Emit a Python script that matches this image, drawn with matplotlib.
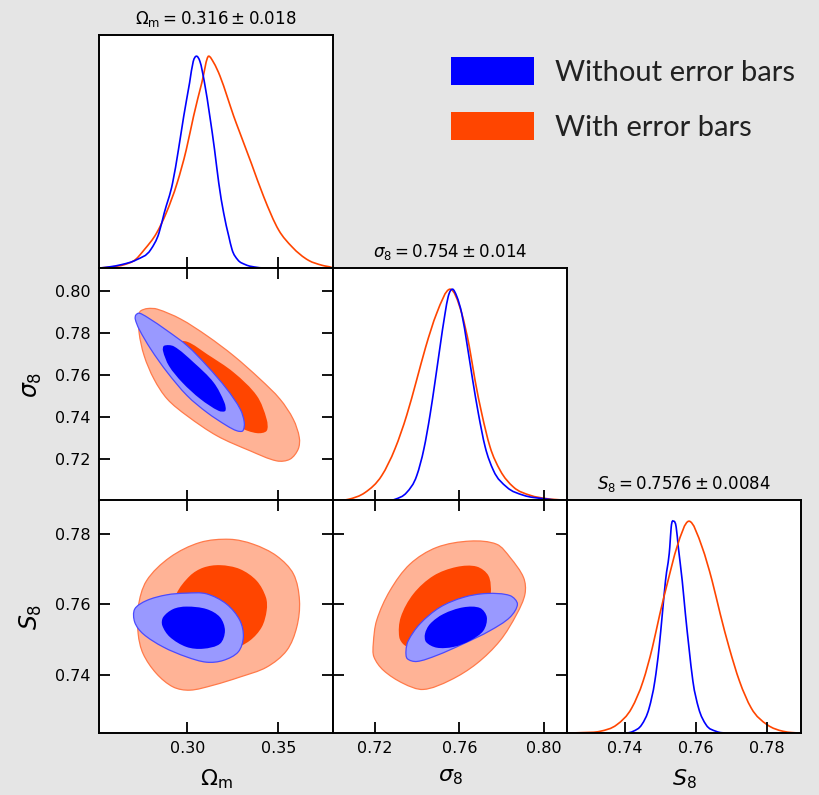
import numpy as np
import matplotlib
matplotlib.use("Agg")
import matplotlib.pyplot as plt
from matplotlib.path import Path
from matplotlib.patches import PathPatch, Patch

# ---------------- data ----------------
labels = ["Without error bars", "With error bars"]

# 1D marginals (x, normalised density)
om_x_blue = [0.252, 0.2570, 0.2640, 0.2722, 0.2800, 0.2845, 0.2874, 0.2920, 0.2952, 0.2981, 0.3013,
             0.3033, 0.3051, 0.3070, 0.3095, 0.3124, 0.3150, 0.3173, 0.3200, 0.3228, 0.3246, 0.3277,
             0.3319, 0.3383, 0.350, 0.380]
om_p_blue = [0.0, 0.005, 0.016, 0.039, 0.087, 0.165, 0.260, 0.402, 0.559, 0.717, 0.874,
             0.975, 1.0, 0.975, 0.874, 0.717, 0.559, 0.402, 0.260, 0.150, 0.087, 0.039,
             0.016, 0.003, 0.0, 0.0]
om_x_orange = [0.252, 0.2585, 0.2655, 0.2715, 0.2765, 0.2832, 0.2885, 0.2945, 0.2995, 0.3035, 0.3080,
               0.3118, 0.3145, 0.3180, 0.3219, 0.3255, 0.3283, 0.3352, 0.3420, 0.3502, 0.3575,
               0.3666, 0.3739, 0.3794, 0.380]
om_p_orange = [0.0, 0.005, 0.016, 0.039, 0.087, 0.165, 0.260, 0.402, 0.559, 0.717, 0.874,
               1.0, 0.970, 0.906, 0.810, 0.717, 0.652, 0.494, 0.336, 0.179, 0.100,
               0.036, 0.013, 0.002, 0.0]

sig8_x_blue = [0.700, 0.722, 0.7295, 0.7350, 0.7398, 0.7432, 0.7461, 0.7485, 0.7508, 0.7532, 0.7547,
               0.7567, 0.7588, 0.7611, 0.7638, 0.7663, 0.7690, 0.7722, 0.7761, 0.7824, 0.7904, 0.7998,
               0.8077, 0.811]
sig8_p_blue = [0.0, 0.0, 0.008, 0.040, 0.120, 0.247, 0.407, 0.566, 0.726, 0.885, 0.965,
               1.0, 0.965, 0.886, 0.729, 0.571, 0.413, 0.256, 0.145, 0.066, 0.027, 0.011,
               0.003, 0.0]
sig8_x_orange = [0.7001, 0.7074, 0.7153, 0.7232, 0.7295, 0.7351, 0.7396, 0.7440, 0.7492, 0.7556,
                 0.7611, 0.7647, 0.7674, 0.7706, 0.7745, 0.7793, 0.7856, 0.7935, 0.8014, 0.8093, 0.811]
sig8_p_orange = [0.0, 0.008, 0.040, 0.120, 0.247, 0.407, 0.566, 0.726, 0.885, 1.0,
                 0.886, 0.729, 0.571, 0.413, 0.256, 0.145, 0.066, 0.027, 0.011, 0.003, 0.0]

s8_x_blue = [0.7237, 0.7390, 0.7423, 0.7447, 0.7468, 0.7484, 0.7496, 0.7505, 0.7514, 0.7526, 0.7530,
             0.7537, 0.7544, 0.7550, 0.7561, 0.7570, 0.7580, 0.7591, 0.7607, 0.7628, 0.7656, 0.7690,
             0.7893]
s8_p_blue = [0.0, 0.0, 0.008, 0.039, 0.118, 0.245, 0.403, 0.561, 0.719, 0.877, 0.972,
             1.0, 0.972, 0.877, 0.719, 0.561, 0.403, 0.245, 0.118, 0.039, 0.008, 0.0,
             0.0]
s8_x_orange = [0.7237, 0.7283, 0.7330, 0.7377, 0.7419, 0.7451, 0.7477, 0.7498, 0.7521, 0.7546,
               0.7580, 0.7617, 0.7645, 0.7668, 0.7693, 0.7722, 0.7755, 0.7800, 0.7845, 0.7870, 0.7893]
s8_p_orange = [0.0, 0.002, 0.008, 0.039, 0.118, 0.245, 0.403, 0.561, 0.719, 0.877,
               1.0, 0.877, 0.719, 0.561, 0.403, 0.245, 0.118, 0.039, 0.008, 0.002, 0.0]

# 2D contour outlines (x, y) in data units
om_sig8_orange_95 = [(0.2736, 0.7890), (0.2736, 0.7803), (0.2764, 0.7692), (0.2818, 0.7581), (0.2891, 0.7486),
                     (0.3000, 0.7406), (0.3164, 0.7311), (0.3345, 0.7240), (0.3491, 0.7192), (0.3564, 0.7200),
                     (0.3609, 0.7248), (0.3615, 0.7303), (0.3582, 0.7390), (0.3509, 0.7486), (0.3400, 0.7581),
                     (0.3255, 0.7692), (0.3109, 0.7787), (0.2964, 0.7867), (0.2836, 0.7914), (0.2782, 0.7917),
                     (0.2745, 0.7906)]
om_sig8_orange_68 = [(0.2936, 0.7756), (0.3000, 0.7759), (0.3109, 0.7700), (0.3255, 0.7613), (0.3382, 0.7502),
                     (0.3436, 0.7390), (0.3436, 0.7335), (0.3382, 0.7324), (0.3291, 0.7351), (0.3145, 0.7438),
                     (0.3018, 0.7533), (0.2927, 0.7644), (0.2900, 0.7716)]
om_sig8_blue_95 = [(0.2718, 0.7886), (0.2736, 0.7895), (0.2782, 0.7875), (0.2891, 0.7811), (0.3000, 0.7740),
                   (0.3109, 0.7644), (0.3218, 0.7533), (0.3291, 0.7438), (0.3313, 0.7375), (0.3305, 0.7335),
                   (0.3273, 0.7335), (0.3218, 0.7359), (0.3109, 0.7422), (0.3000, 0.7502), (0.2891, 0.7613),
                   (0.2800, 0.7724), (0.2736, 0.7819), (0.2715, 0.7867)]
om_sig8_blue_68 = [(0.2873, 0.7740), (0.2927, 0.7737), (0.3036, 0.7660), (0.3145, 0.7565), (0.3204, 0.7470),
                   (0.3209, 0.7430), (0.3173, 0.7430), (0.3073, 0.7486), (0.2973, 0.7565), (0.2900, 0.7644),
                   (0.2867, 0.7716)]

om_s8_orange_95 = [(0.3234, 0.7784), (0.3363, 0.7770), (0.3491, 0.7737), (0.3583, 0.7686), (0.3616, 0.7611),
                   (0.3601, 0.7536), (0.3546, 0.7470), (0.3436, 0.7423), (0.3289, 0.7395), (0.3143, 0.7372),
                   (0.3015, 0.7358), (0.2923, 0.7367), (0.2831, 0.7405), (0.2758, 0.7461), (0.2731, 0.7517),
                   (0.2731, 0.7592), (0.2777, 0.7667), (0.2905, 0.7733), (0.3070, 0.7775)]
om_s8_orange_68 = [(0.3180, 0.7711), (0.3289, 0.7700), (0.3381, 0.7667), (0.3432, 0.7620), (0.3436, 0.7583),
                   (0.3409, 0.7536), (0.3344, 0.7498), (0.3253, 0.7475), (0.3143, 0.7470), (0.3033, 0.7489),
                   (0.2960, 0.7526), (0.2932, 0.7583), (0.2941, 0.7630), (0.3015, 0.7681), (0.3088, 0.7704)]
om_s8_blue_95 = [(0.2712, 0.7587), (0.2777, 0.7611), (0.2886, 0.7627), (0.2996, 0.7632), (0.3106, 0.7630),
                 (0.3216, 0.7601), (0.3289, 0.7555), (0.3308, 0.7508), (0.3280, 0.7466), (0.3198, 0.7442),
                 (0.3106, 0.7437), (0.2996, 0.7452), (0.2868, 0.7480), (0.2758, 0.7517), (0.2712, 0.7550)]
om_s8_blue_68 = [(0.2868, 0.7564), (0.2923, 0.7587), (0.2996, 0.7594), (0.3106, 0.7587), (0.3180, 0.7564),
                 (0.3207, 0.7526), (0.3180, 0.7489), (0.3088, 0.7475), (0.2996, 0.7480), (0.2905, 0.7508),
                 (0.2863, 0.7541)]

sig8_s8_orange_95 = [(0.7192, 0.7489), (0.7208, 0.7555), (0.7271, 0.7639), (0.7366, 0.7714), (0.7492, 0.7761),
                     (0.7651, 0.7779), (0.7777, 0.7770), (0.7840, 0.7733), (0.7904, 0.7676), (0.7911, 0.7630),
                     (0.7872, 0.7573), (0.7793, 0.7498), (0.7682, 0.7433), (0.7556, 0.7386), (0.7429, 0.7360),
                     (0.7334, 0.7377), (0.7240, 0.7414), (0.7195, 0.7452)]
sig8_s8_orange_68 = [(0.7315, 0.7508), (0.7322, 0.7564), (0.7382, 0.7630), (0.7477, 0.7681), (0.7587, 0.7706),
                     (0.7682, 0.7707), (0.7738, 0.7681), (0.7749, 0.7630), (0.7730, 0.7573), (0.7651, 0.7517),
                     (0.7524, 0.7480), (0.7413, 0.7470), (0.7342, 0.7484)]
sig8_s8_blue_95 = [(0.7347, 0.7470), (0.7358, 0.7498), (0.7413, 0.7545), (0.7508, 0.7592), (0.7619, 0.7620),
                   (0.7730, 0.7631), (0.7840, 0.7625), (0.7875, 0.7601), (0.7840, 0.7564), (0.7745, 0.7526),
                   (0.7619, 0.7489), (0.7492, 0.7456), (0.7398, 0.7439), (0.7353, 0.7447)]
sig8_s8_blue_68 = [(0.7437, 0.7517), (0.7461, 0.7545), (0.7524, 0.7573), (0.7619, 0.7592), (0.7698, 0.7590),
                   (0.7730, 0.7564), (0.7714, 0.7526), (0.7651, 0.7498), (0.7572, 0.7480), (0.7492, 0.7478),
                   (0.7442, 0.7494)]

titles = [r"$\Omega_{\rm m} = 0.316 \pm 0.018$", r"$\sigma_8 = 0.754 \pm 0.014$", r"$S_8 = 0.7576 \pm 0.0084$"]
names = [r"$\Omega_{\rm m}$", r"$\sigma_8$", r"$S_8$"]
limits = [(0.2516, 0.380), (0.7001, 0.811), (0.7237, 0.7895)]
xticks = [[0.30, 0.35], [0.72, 0.76, 0.80], [0.74, 0.76, 0.78]]
yticks = [None, [0.72, 0.74, 0.76, 0.78, 0.80], [0.74, 0.76, 0.78]]

# ---------------- styles ----------------
BLUE, BLUE_L, BLUE_E = "#0000ff", "#9999ff", "#4a4aff"
ORNG, ORNG_L, ORNG_E = "#ff4500", "#ffb396", "#ff7a4a"


def curve_path(x, y):
    # cubic hermite through the read points, as bezier segments
    x, y = np.asarray(x, float), np.asarray(y, float)
    h = np.diff(x)
    d = np.diff(y) / h
    m = np.empty_like(x)
    m[0], m[-1] = d[0], d[-1]
    m[1:-1] = (d[:-1] * h[1:] + d[1:] * h[:-1]) / (h[:-1] + h[1:])
    m[1:-1][d[:-1] * d[1:] <= 0] = 0
    verts, codes = [(x[0], y[0])], [Path.MOVETO]
    for i in range(len(h)):
        verts += [(x[i] + h[i] / 3, y[i] + m[i] * h[i] / 3),
                  (x[i + 1] - h[i] / 3, y[i + 1] - m[i + 1] * h[i] / 3),
                  (x[i + 1], y[i + 1])]
        codes += [Path.CURVE4] * 3
    return Path(verts, codes)


def loop_path(pts, xr, yr):
    # closed chord-length catmull-rom through the read outline
    p = np.asarray(pts, float)
    n = len(p)
    q = (p - [xr[0], yr[0]]) / [xr[1] - xr[0], yr[1] - yr[0]]
    seg = np.hypot(*(np.roll(q, -1, axis=0) - q).T)
    m = np.empty_like(p)
    for i in range(n):
        m[i] = (p[(i + 1) % n] - p[i - 1]) / (seg[i - 1] + seg[i])
    verts, codes = [p[0]], [Path.MOVETO]
    for i in range(n):
        j = (i + 1) % n
        verts += [p[i] + m[i] * seg[i] / 3, p[j] - m[j] * seg[i] / 3, p[j]]
        codes += [Path.CURVE4] * 3
    verts.append(p[0])
    codes.append(Path.CLOSEPOLY)
    return Path(verts, codes)


def contour(ax, pts, fc, ec=None):
    path = loop_path(pts, ax.get_xlim(), ax.get_ylim())
    ax.add_patch(PathPatch(path, facecolor=fc, edgecolor=ec if ec else "none", lw=0.9 if ec else 0))


def marginal(ax, x, p, color):
    ax.add_patch(PathPatch(curve_path(x, p), facecolor="none", edgecolor=color, lw=1.2))


fig = plt.figure(figsize=(8.2, 7.95), dpi=100, facecolor="#e5e5e5")
W, H = 820, 795
lefts = [99, 333, 567]
tops = [35, 268, 500]
pw, ph = 234, 233

axes = {}
for i in range(3):
    for j in range(i + 1):
        ax = fig.add_axes([lefts[j] / W, 1 - (tops[i] + ph) / H, pw / W, ph / H])
        ax.set_facecolor("white")
        for s in ax.spines.values():
            s.set_linewidth(1.4)
        ax.set_xlim(limits[j])
        ax.set_xticks(xticks[j])
        if i == j:
            ax.set_ylim(0, 1.1)
            ax.set_yticks([])
            ax.tick_params(axis="x", direction="in", length=8, width=1.3, labelsize=11.5, pad=6)
            ax.set_title(titles[i], fontsize=12, pad=8)
        else:
            ax.set_ylim(limits[i])
            ax.set_yticks(yticks[i])
            ax.tick_params(direction="in", length=8, width=1.3, top=True, right=True,
                           labelsize=11.5, pad=6)
        if i != 2:
            ax.tick_params(labelbottom=False)
        else:
            ax.set_xlabel(names[j], fontsize=16, labelpad=8)
        if j != 0 or i == 0:
            ax.tick_params(labelleft=False)
        else:
            ax.set_ylabel(names[i], fontsize=17, labelpad=8)
        axes[(i, j)] = ax

# marginals
marginal(axes[(0, 0)], om_x_orange, om_p_orange, ORNG)
marginal(axes[(0, 0)], om_x_blue, om_p_blue, BLUE)
marginal(axes[(1, 1)], sig8_x_orange, sig8_p_orange, ORNG)
marginal(axes[(1, 1)], sig8_x_blue, sig8_p_blue, BLUE)
marginal(axes[(2, 2)], s8_x_blue, s8_p_blue, BLUE)
marginal(axes[(2, 2)], s8_x_orange, s8_p_orange, ORNG)

# 2D contours: orange first, blue on top
pairs = {(1, 0): (om_sig8_orange_95, om_sig8_orange_68, om_sig8_blue_95, om_sig8_blue_68),
         (2, 0): (om_s8_orange_95, om_s8_orange_68, om_s8_blue_95, om_s8_blue_68),
         (2, 1): (sig8_s8_orange_95, sig8_s8_orange_68, sig8_s8_blue_95, sig8_s8_blue_68)}
for key, (o95, o68, b95, b68) in pairs.items():
    ax = axes[key]
    contour(ax, o95, ORNG_L, ORNG_E)
    contour(ax, o68, ORNG)
    contour(ax, b95, BLUE_L, BLUE_E)
    contour(ax, b68, BLUE)

handles = [Patch(facecolor=BLUE, edgecolor="none"), Patch(facecolor=ORNG, edgecolor="none")]
fig.legend(handles, labels, loc="upper left", bbox_to_anchor=(451 / W, 1 - 57 / H),
           frameon=False, prop={"family": "Lato", "size": 21}, labelcolor="#222222",
           handlelength=2.85, handleheight=1.1, handletextpad=0.7, labelspacing=0.9,
           borderpad=0, borderaxespad=0)

fig.savefig("out.png", dpi=100, facecolor=fig.get_facecolor())
